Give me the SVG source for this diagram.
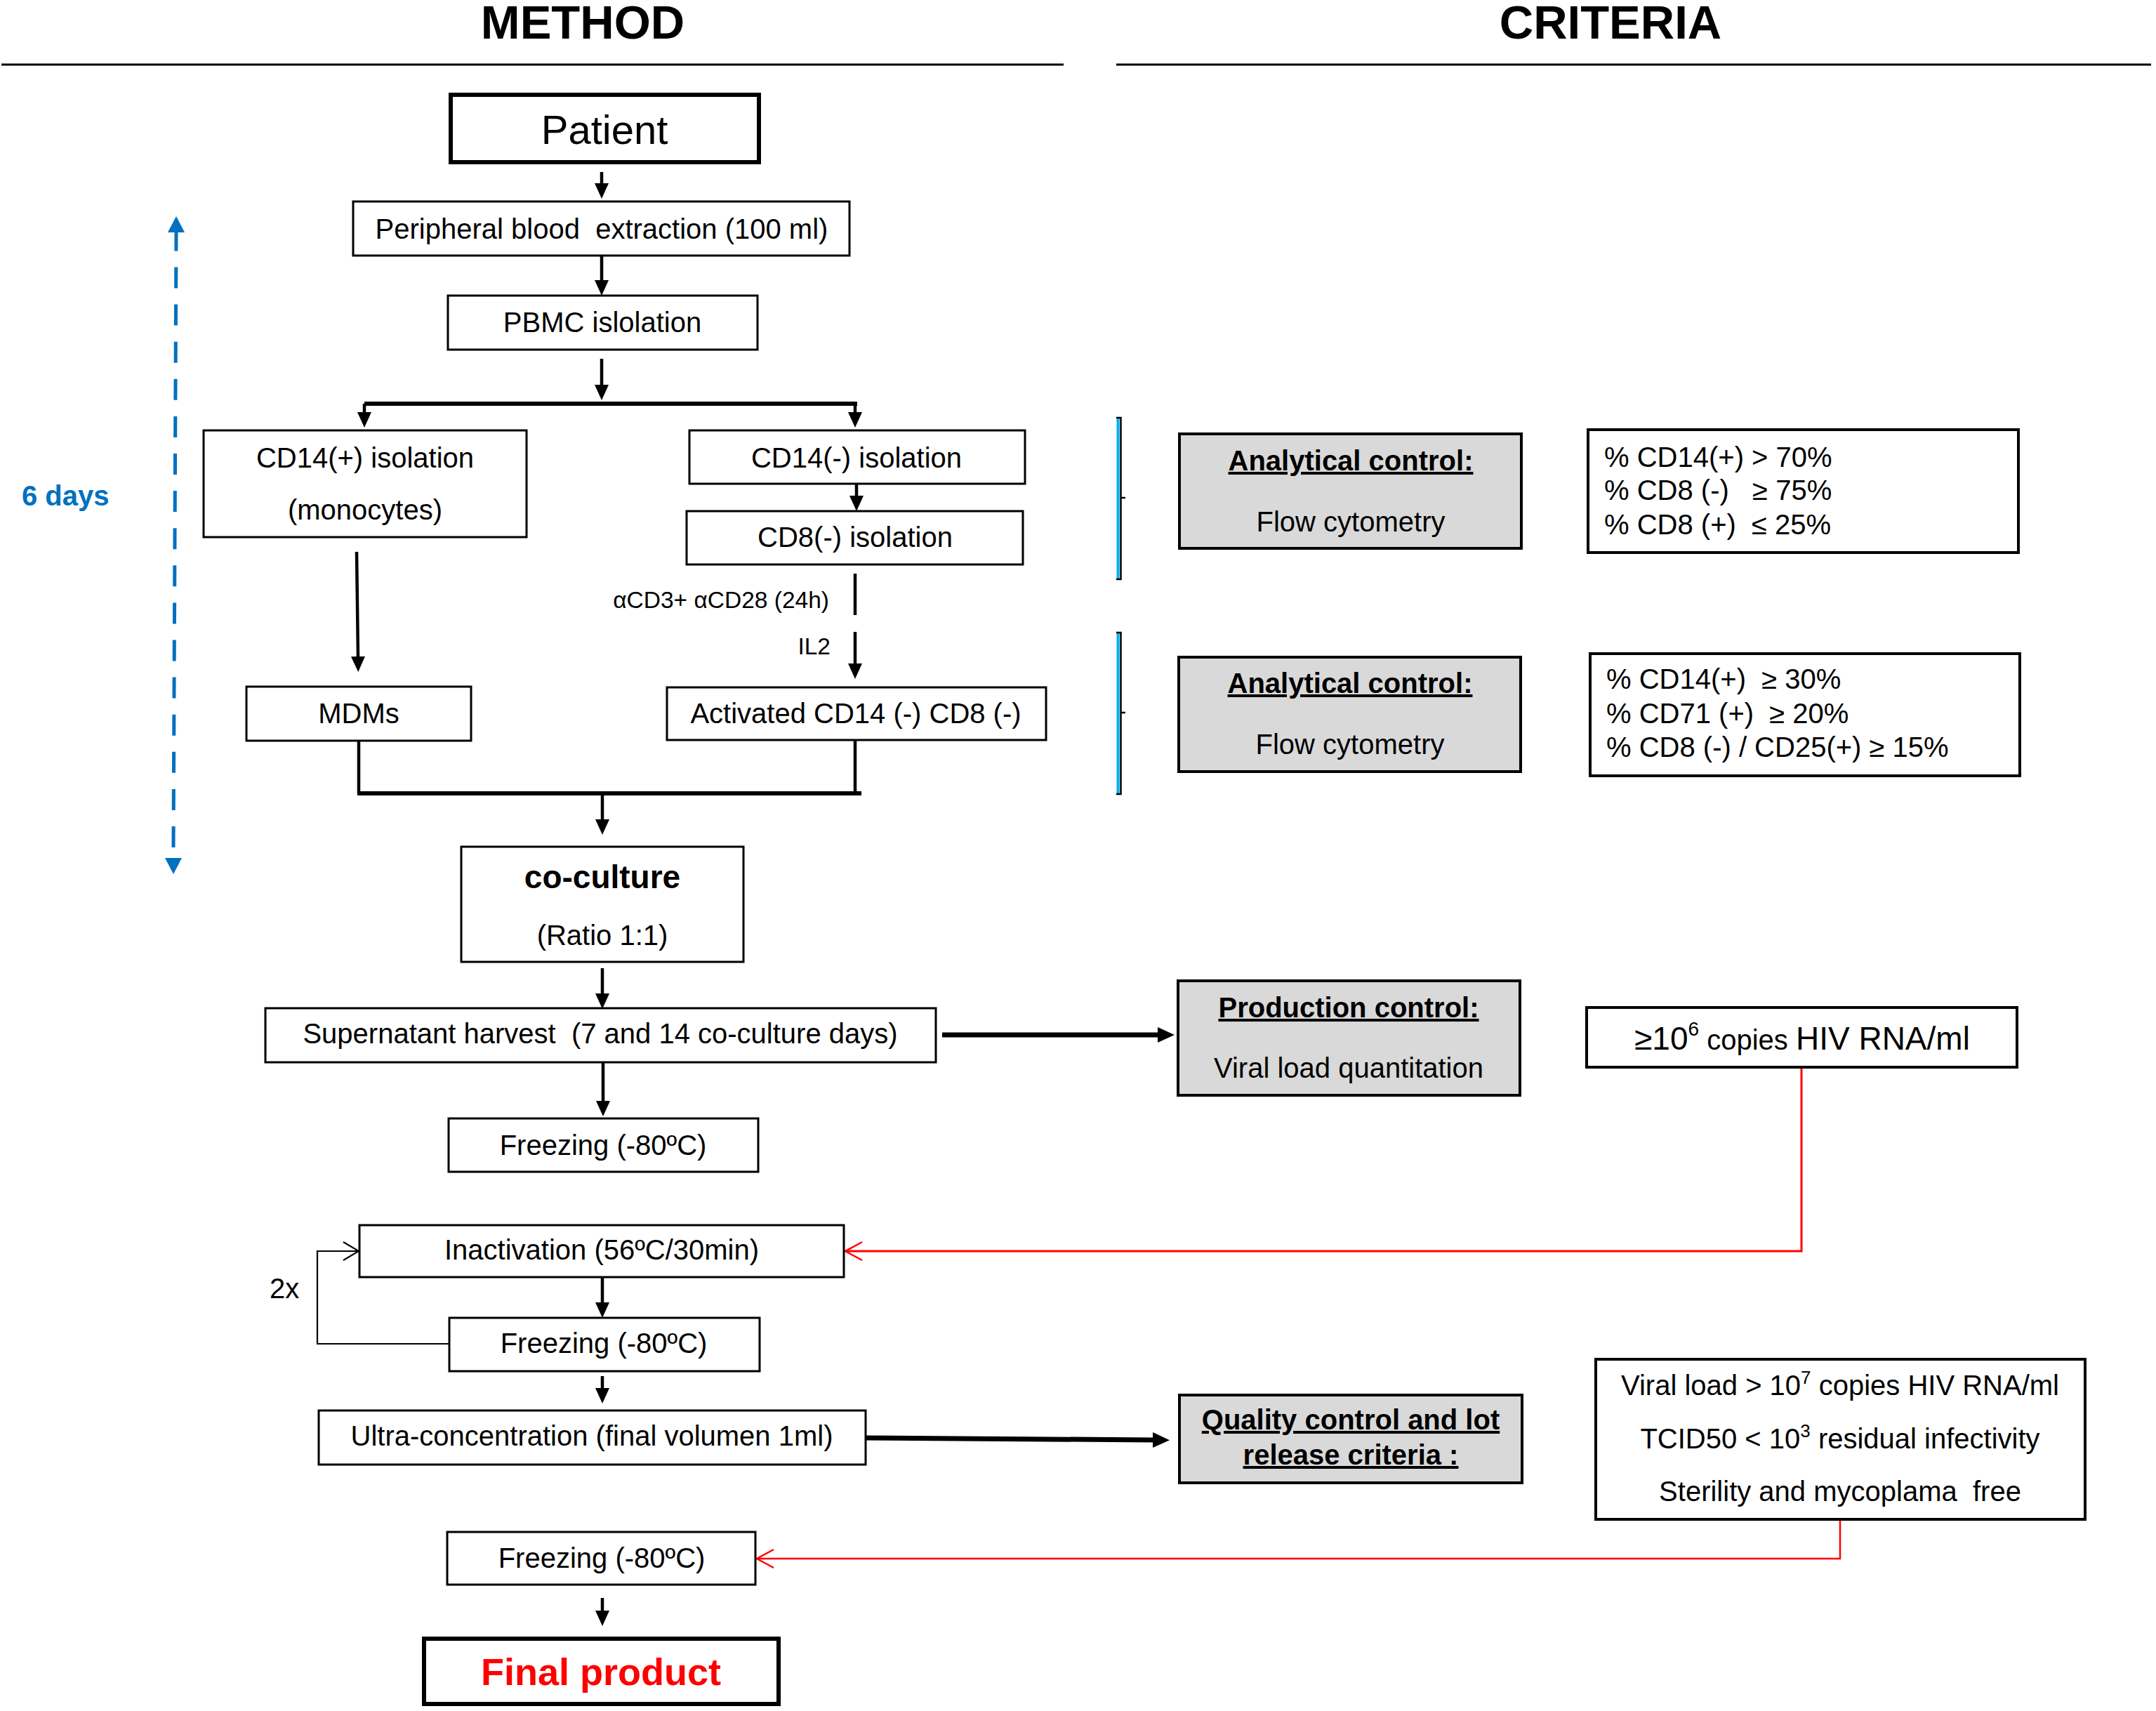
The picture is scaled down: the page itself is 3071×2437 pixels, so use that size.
<svg xmlns="http://www.w3.org/2000/svg" width="3071" height="2437" viewBox="0 0 3071 2437" xml:space="preserve">
<style>
.t{font-family:"Liberation Sans",Arial,Helvetica,sans-serif;font-size:40px;fill:#000;white-space:pre}
.c{text-anchor:middle}
.e{text-anchor:end}
.b{font-weight:bold}
.u{text-decoration:underline}
.h{font-size:67px}
.s{font-size:33.5px}
.box{fill:#fff;stroke:#000;stroke-width:3}
.thk{fill:#fff;stroke:#000;stroke-width:6}
.gray{fill:#D9D9D9;stroke:#000;stroke-width:4}
.crit{fill:#fff;stroke:#000;stroke-width:4}
.ln{fill:none;stroke:#000;stroke-width:4.5}
.bar{fill:none;stroke:#000;stroke-width:6}
.thin{fill:none;stroke:#000;stroke-width:2.2}
.red{fill:none;stroke:#FF0000;stroke-width:2.5}
.hdr{fill:none;stroke:#000;stroke-width:3}
</style>
<defs>
<marker id="ah" markerUnits="userSpaceOnUse" viewBox="0 0 22 20" markerWidth="22" markerHeight="20" refX="2" refY="10" orient="auto"><path d="M0,0 L22,10 L0,20 z" fill="#000"/></marker>
<marker id="ahT" markerUnits="userSpaceOnUse" viewBox="0 0 24 22" markerWidth="24" markerHeight="22" refX="2" refY="11" orient="auto"><path d="M0,0 L24,11 L0,22 z" fill="#000"/></marker>
<marker id="ao" markerUnits="userSpaceOnUse" viewBox="-3 -3 28 32" markerWidth="28" markerHeight="32" refX="22" refY="13" orient="auto"><path d="M0,0 L22,13 L0,26" fill="none" stroke="#000" stroke-width="2.2"/></marker>
<marker id="ar" markerUnits="userSpaceOnUse" viewBox="-3 -3 30 32" markerWidth="30" markerHeight="32" refX="24" refY="13" orient="auto"><path d="M0,0 L24,13 L0,26" fill="none" stroke="#FF0000" stroke-width="2.5"/></marker>
</defs>
<rect width="3071" height="2437" fill="#fff"/>

<g id="headers">
<text class="t b c h" x="830" y="55">METHOD</text>
<line class="hdr" x1="2" y1="92" x2="1515" y2="92"/>
<text class="t b c h" x="2294" y="55">CRITERIA</text>
<line class="hdr" x1="1590" y1="92" x2="3064" y2="92"/>
</g>

<g id="connectors">
<path class="ln" d="M857,245 L857,263" marker-end="url(#ah)"/>
<path class="ln" d="M857,364 L857,401" marker-end="url(#ah)"/>
<path class="ln" d="M857,511 L857,550" marker-end="url(#ah)"/>
<path class="bar" d="M519,575 L1221,575"/>
<path class="ln" d="M519,575 L519,589" marker-end="url(#ah)"/>
<path class="ln" d="M1218,575 L1218,589" marker-end="url(#ah)"/>
<path class="ln" d="M1220,689 L1220,708" marker-end="url(#ah)"/>
<path class="ln" d="M1218,817 L1218,876"/>
<path class="ln" d="M1218,900 L1218,947" marker-end="url(#ah)"/>
<path class="ln" d="M508,786 L510,937" marker-end="url(#ah)"/>
<path class="ln" d="M511,1055 L511,1130"/>
<path class="ln" d="M1218,1054 L1218,1130"/>
<path class="bar" d="M509,1130 L1227,1130"/>
<path class="ln" d="M858,1130 L858,1169" marker-end="url(#ah)"/>
<path class="ln" d="M858,1379 L858,1417" marker-end="url(#ah)"/>
<path class="bar" style="stroke-width:7" d="M1342,1474 L1651,1474" marker-end="url(#ahT)"/>
<path class="ln" d="M859,1513 L859,1570" marker-end="url(#ah)"/>
<path class="ln" d="M858,1819 L858,1857" marker-end="url(#ah)"/>
<path class="thin" d="M640,1914 L452,1914 L452,1782 L511,1782" marker-end="url(#ao)"/>
<path class="ln" d="M858,1960 L858,1979" marker-end="url(#ah)"/>
<path class="bar" style="stroke-width:7" d="M1233,2048 L1644,2051" marker-end="url(#ahT)"/>
<path class="ln" d="M858,2276 L858,2296" marker-end="url(#ah)"/>
<path class="red" style="stroke-width:3" d="M2566,1520 L2566,1782 L1204,1782" marker-end="url(#ar)"/>
<path class="red" d="M2621,2164 L2621,2220 L1078,2220" marker-end="url(#ar)"/>
<path d="M247,1207 L251,331" fill="none" stroke="#0070C0" stroke-width="5" stroke-dasharray="30 23.1"/>
<polygon points="239,331 251,308 263,331" fill="#0070C0"/>
<polygon points="235,1222 259,1222 247,1245" fill="#0070C0"/>
<line x1="1592.5" y1="595" x2="1592.5" y2="825" stroke="#00B0F0" stroke-width="4"/>
<path d="M1590,595 L1596.5,595 L1596.5,825 L1590,825 M1596.5,709 L1603,709" fill="none" stroke="#000" stroke-width="2.5"/>
<line x1="1592.5" y1="901" x2="1592.5" y2="1131" stroke="#00B0F0" stroke-width="4"/>
<path d="M1590,901 L1596.5,901 L1596.5,1131 L1590,1131 M1596.5,1015 L1603,1015" fill="none" stroke="#000" stroke-width="2.5"/>
</g>

<g id="n-patient"><rect class="thk" x="642" y="135" width="439" height="96"/><text class="t c" x="861" y="205" style="font-size:58px">Patient</text></g>
<g id="n-blood"><rect class="box" x="503" y="287" width="707" height="77"/><text class="t c" x="857" y="340">Peripheral blood  extraction (100 ml)</text></g>
<g id="n-pbmc"><rect class="box" x="638" y="421" width="441" height="77"/><text class="t c" x="858" y="473">PBMC islolation</text></g>
<g id="n-cd14p"><rect class="box" x="290" y="613" width="460" height="152"/><text class="t c" x="520" y="666">CD14(+) isolation</text><text class="t c" x="520" y="740">(monocytes)</text></g>
<g id="n-cd14m"><rect class="box" x="982" y="613" width="478" height="76"/><text class="t c" x="1220" y="666">CD14(-) isolation</text></g>
<g id="n-cd8m"><rect class="box" x="978" y="728" width="479" height="76"/><text class="t c" x="1218" y="779">CD8(-) isolation</text></g>
<g id="n-stim"><text class="t e s" x="1181" y="866">αCD3+ αCD28 (24h)</text><text class="t e s" x="1183" y="932">IL2</text></g>
<g id="n-mdms"><rect class="box" x="351" y="978" width="320" height="77"/><text class="t c" x="511" y="1030">MDMs</text></g>
<g id="n-activated"><rect class="box" x="950" y="979" width="540" height="75"/><text class="t c" x="1219" y="1030">Activated CD14 (-) CD8 (-)</text></g>
<g id="n-days"><text class="t b" x="31" y="720" style="fill:#0070C0">6 days</text></g>
<g id="n-coculture"><rect class="box" x="657" y="1206" width="402" height="164"/><text class="t b c" x="858" y="1265" style="font-size:46px">co-culture</text><text class="t c" x="858" y="1346">(Ratio 1:1)</text></g>
<g id="n-supernatant"><rect class="box" x="378" y="1436" width="955" height="77"/><text class="t c" x="855" y="1486">Supernatant harvest  (7 and 14 co-culture days)</text></g>
<g id="n-freeze1"><rect class="box" x="639" y="1593" width="441" height="76"/><text class="t c" x="859" y="1645">Freezing (-80ºC)</text></g>
<g id="n-inact"><rect class="box" x="512" y="1745" width="690" height="74"/><text class="t c" x="857" y="1794">Inactivation (56ºC/30min)</text></g>
<g id="n-2x"><text class="t" x="384" y="1849">2x</text></g>
<g id="n-freeze2"><rect class="box" x="640" y="1877" width="442" height="76"/><text class="t c" x="860" y="1927">Freezing (-80ºC)</text></g>
<g id="n-ultra"><rect class="box" x="454" y="2009" width="779" height="77"/><text class="t c" x="843" y="2059">Ultra-concentration (final volumen 1ml)</text></g>
<g id="n-freeze3"><rect class="box" x="637" y="2182" width="439" height="75"/><text class="t c" x="857" y="2233">Freezing (-80ºC)</text></g>
<g id="n-final"><rect class="thk" x="604" y="2334" width="505" height="93"/><text class="t b c" x="856" y="2400" style="font-size:54px;fill:#FF0000">Final product</text></g>

<g id="n-ac1"><rect class="gray" x="1680" y="618" width="487" height="163"/><text class="t b c u" x="1924" y="670">Analytical control:</text><text class="t c" x="1924" y="757">Flow cytometry</text></g>
<g id="n-cr1"><rect class="crit" x="2262" y="612" width="613" height="175"/><text class="t" x="2285" y="665">% CD14(+) &gt; 70%</text><text class="t" x="2285" y="712">% CD8 (-)   ≥ 75%</text><text class="t" x="2285" y="761">% CD8 (+)  ≤ 25%</text></g>
<g id="n-ac2"><rect class="gray" x="1679" y="936" width="487" height="163"/><text class="t b c u" x="1923" y="987">Analytical control:</text><text class="t c" x="1923" y="1074">Flow cytometry</text></g>
<g id="n-cr2"><rect class="crit" x="2265" y="931" width="612" height="174"/><text class="t" x="2288" y="981">% CD14(+)  ≥ 30%</text><text class="t" x="2288" y="1030">% CD71 (+)  ≥ 20%</text><text class="t" x="2288" y="1078">% CD8 (-) / CD25(+) ≥ 15%</text></g>
<g id="n-prod"><rect class="gray" x="1678" y="1397" width="487" height="163"/><text class="t b c u" x="1921" y="1449">Production control:</text><text class="t c" x="1921" y="1535">Viral load quantitation</text></g>
<g id="n-copies"><rect class="crit" x="2260" y="1435" width="613" height="85"/><text class="t c" x="2567" y="1495"><tspan style="font-size:46px">≥10</tspan><tspan style="font-size:28px" dy="-20">6</tspan><tspan dy="20"> copies </tspan><tspan style="font-size:46px">HIV RNA/ml</tspan></text></g>
<g id="n-qc"><rect class="gray" x="1680" y="1987" width="488" height="125"/><text class="t b c u" x="1924" y="2036">Quality control and lot</text><text class="t b c u" x="1924" y="2086">release criteria :</text></g>
<g id="n-release"><rect class="crit" x="2273" y="1936" width="697" height="228"/><text class="t c" x="2621" y="1987">Viral load &gt; 10<tspan style="font-size:26px" dy="-16">7</tspan><tspan dy="16"> copies HIV RNA/ml</tspan></text><text class="t c" x="2621" y="2063">TCID50 &lt; 10<tspan style="font-size:26px" dy="-16">3</tspan><tspan dy="16"> residual infectivity</tspan></text><text class="t c" x="2621" y="2138">Sterility and mycoplama  free</text></g>
</svg>
